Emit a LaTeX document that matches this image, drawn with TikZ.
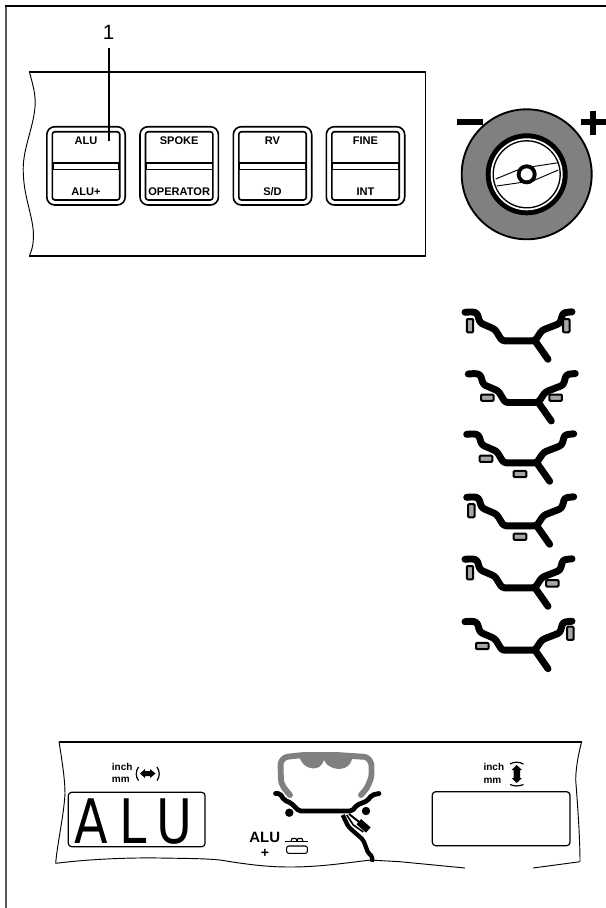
\documentclass[tikz,border=0pt]{standalone}
\usepackage{fontspec}
\setmainfont{Liberation Sans}
\newfontfamily\lcdfont[LetterSpace=24]{DejaVu Sans}
\begin{document}
\begin{tikzpicture}[x=0.75pt,y=-0.75pt,
  thinl/.style={line width=0.7pt},
  medl/.style={line width=1.2pt},
  keyouter/.style={draw,line width=1.2pt,rounded corners=6pt},
  keyinner/.style={draw,line width=1.2pt,rounded corners=2pt},
  keyslot/.style={draw,line width=1.2pt},
  keytext/.style={font=\bfseries\fontsize{8.3}{9}\selectfont,inner sep=0pt},
  smalltext/.style={font=\bfseries\fontsize{7.5}{9}\selectfont,inner sep=0pt,anchor=west},
  rimline/.style={line width=5.2pt,line cap=round,line join=round,rounded corners=2pt},
  weighth/.style={draw,line width=1.5pt,fill=black!35,minimum width=9.4pt,minimum height=4.8pt,inner sep=0pt,rounded corners=0.8pt},
  weightv/.style={draw,line width=1.5pt,fill=black!35,minimum width=4.8pt,minimum height=10pt,inner sep=0pt,rounded corners=0.8pt},
  tyreline/.style={draw=black!50,line width=4.4pt,line join=round,line cap=round,rounded corners=2pt},
  dispbox/.style={draw,line width=0.9pt,rounded corners=2.5pt},
  rimwheel/.pic={
    \draw[rimline] (0,0) -- (7,-0.5) -- (12,0.5) -- (15,10.5) -- (30,17) -- (37,28.5) -- (70,28.5) -- (77,18) -- (95,11) -- (98,0.5) -- (107,-0.5);
    \draw[rimline] (70,28.5) -- (83,47);
  }]
\useasboundingbox (0,0) rectangle (606,908);
% outer frame: top and left only
\draw[line width=1.5pt,black!65] (5.7,908) -- (5.7,5.7);
\draw[line width=1.2pt] (5,5.7) -- (606,5.7);
% upper panel
\draw[medl] (29.3,71.7) -- (425.3,71.7) -- (425.3,256) -- (29.3,256);
\draw[thinl] (29.3,71.7) .. controls (33,85) and (36,95) .. (35,107) .. controls (33,130) and (22,150) .. (23.3,173) .. controls (24,200) and (35,220) .. (33.3,240) .. controls (33,247) and (31,252) .. (29.3,256);
% keys
\foreach \kx/\ktop/\kbot/\kid in {86/ALU/ALU+/a, 179.2/SPOKE/OPERATOR/b, 272.5/RV/S\slash D/c, 365.5/FINE/INT/d}{
  \draw[keyouter] (\kx-39.2,126.7) rectangle (\kx+39.2,205);
  \draw[keyinner] (\kx-33.7,131.7) rectangle (\kx+33.7,200);
  \draw[keyslot] (\kx-33.2,162.7) rectangle (\kx+33.2,169.3);
  \node[keytext] (top\kid) at (\kx,141) {\ktop};
  \node[keytext] (bot\kid) at (\kx,191.7) {\kbot};
}
% callout
\node[inner sep=0pt,minimum height=24pt,font=\fontsize{15.5}{17}\selectfont] (lab1) at (108.6,32) {1};
\coordinate (leadend) at (108.6,141);
\draw[line width=1.6pt] (lab1.south) -- (leadend);
% wheel
\fill[draw,line width=1.4pt,fill=black!50] (526.7,174.3) circle (65);
\fill[black] (526.7,174.3) circle (41);
\fill[white] (526.7,174.3) circle (36);
\draw[line width=1pt] (526.7,174.3) circle (33.5);
\draw[line width=0.7pt] (495.7,179) -- (521.7,168.3) -- (558.3,162.7);
\draw[line width=0.7pt] (496.7,186) -- (533.3,180.7) -- (558.3,170);
\fill[black] (526.7,174.3) circle (10);
\fill[white] (526.7,174.3) circle (6);
\fill (456.7,119.3) rectangle (483.3,125);
\fill (580.7,119.3) rectangle (606,125.3);
\fill (590.3,110.5) rectangle (596.3,134.5);
% rims
\pic at (465,312.3) {rimwheel};
\node[weightv] (w1a) at (470,325.7) {};
\node[weightv] (w1b) at (566.3,325.7) {};
\pic at (468.3,374) {rimwheel};
\node[weighth] (w2a) at (487.3,397.7) {};
\node[weighth] (w2b) at (555.7,397.7) {};
\pic at (466.7,434.3) {rimwheel};
\node[weighth] (w3a) at (486,458.7) {};
\node[weighth] (w3b) at (520,474) {};
\pic at (466.7,497.3) {rimwheel};
\node[weightv] (w4a) at (471.3,510.7) {};
\node[weighth] (w4b) at (520,536.7) {};
\pic at (465,559.3) {rimwheel};
\node[weightv] (w5a) at (470,572.7) {};
\node[weighth] (w5b) at (552.3,583.3) {};
\pic at (465,621.7) {rimwheel};
\node[weighth] (w6a) at (482.3,646) {};
\node[weightv] (w6b) at (570.3,633.3) {};
% lower panel
\draw[medl] (59,741.7) -- (581.7,741.7);
\draw[thinl] (59,741.7) .. controls (62,760) and (65,780) .. (65,793.3) .. controls (64,815) and (57,845) .. (55.7,863.3);
\draw[thinl] (581.7,741.7) .. controls (578,755) and (575.7,770) .. (575.7,780) .. controls (578,810) and (580,840) .. (580,861.7);
\draw[thinl] (55.7,863.3) .. controls (90,859) and (130,857.5) .. (160,858) .. controls (190,858.5) and (205,858.5) .. (220,860) .. controls (245,864) and (265,867) .. (290,867) .. controls (320,867) and (345,863) .. (371,860);
\draw[thinl] (373,860.2) -- (400,861.7) -- (465,868);
\draw[thinl] (533,868) -- (580,861.7);
% displays
\draw[dispbox] (68.3,792.3) rectangle (205,846.7);
\draw[dispbox] (432.3,791.7) rectangle (570,845.7);
\node[font=\lcdfont\fontsize{46}{50}\selectfont,xscale=0.8,inner sep=0pt,text depth=0pt] (lcd) at (133,821) {ALU};
% labels left
\node[smalltext] (inchl) at (111.7,766.7) {inch};
\node[smalltext] (mml) at (111.7,780) {mm};
\draw[line width=0.9pt] (138.5,767) .. controls (135.5,771) and (135.5,777) .. (138.5,780.5);
\draw[line width=0.9pt] (157,767) .. controls (160,771) and (160,777) .. (157,780.5);
\fill (140,773.5) -- (145,769) -- (145,771) -- (150,771) -- (150,769) -- (155.5,773.5) -- (150,778) -- (150,776) -- (145,776) -- (145,778) -- cycle;
% labels right
\node[smalltext] (inchr) at (483.3,767.3) {inch};
\node[smalltext] (mmr) at (483.3,780.7) {mm};
\draw[line width=0.9pt] (510,764) .. controls (514,761.6) and (519,761.6) .. (523.5,764);
\draw[line width=0.9pt] (510,784.5) .. controls (514,786.4) and (519,786.4) .. (523.5,784.5);
\fill (516.7,765) -- (522,770) -- (520,770) -- (520,778) -- (522,778) -- (516.7,783) -- (511.5,778) -- (513.5,778) -- (513.5,770) -- (511.5,770) -- cycle;
% tyre
\fill[black!50] (299,755) .. controls (301,766) and (311,771) .. (319,767) .. controls (322,765) and (323,763) .. (324,760) .. controls (327,768) and (340,772) .. (348,766) .. controls (351,763) and (352,760) .. (353,755) -- cycle;
\draw[tyreline] (290,795) -- (284,788) -- (281,782) -- (280.5,762) -- (285,757) -- (303,755) -- (337,755) -- (367,757) -- (371.5,763) -- (371.5,777) -- (367,788) -- (361,795);
% rim on lower panel
\draw[line width=3.6pt,line join=round,line cap=round,rounded corners=1.5pt] (275.5,793.5) -- (280,793.5) -- (284,800) -- (291,803) -- (299,811) -- (352,811) -- (357,805) -- (367,801) -- (372,795) -- (379,793.5);
\fill (289.3,812.7) circle (4.2);
\fill (366,811) circle (4.2);
\draw[line width=3.2pt,line join=round,rounded corners=1.5pt] (342.7,815) -- (348.3,826.7) -- (363.3,840) -- (368.3,853.3) -- (372.7,856.7) -- (371.7,861.7);
\draw[line width=1.2pt,line join=round] (346.7,815) -- (353.3,825) -- (363.3,832);
\draw[line width=5.2pt] (358.8,821.7) -- (368.3,830);
\draw[line width=1.5pt] (349,814) -- (358.8,821.7);
% ALU+ legend
\node[font=\bfseries\fontsize{11.2}{13}\selectfont,inner sep=0pt] (alulegend) at (264.7,837.5) {ALU};
\node[font=\bfseries\fontsize{10.5}{11}\selectfont,inner sep=0pt] (pluslegend) at (265,853) {+};
\draw[line width=0.8pt] (285,841.5) -- (308,841.5);
\draw[line width=0.8pt] (291,841.5) -- (292,838.5) -- (296,838.5) -- (297,841.5);
\draw[line width=0.8pt] (297,841.5) -- (298,838.5) -- (302,838.5) -- (303,841.5);
\draw[line width=0.8pt,rounded corners=1.5pt] (286.7,846) rectangle (307.3,853.3);
\end{tikzpicture}
\end{document}
